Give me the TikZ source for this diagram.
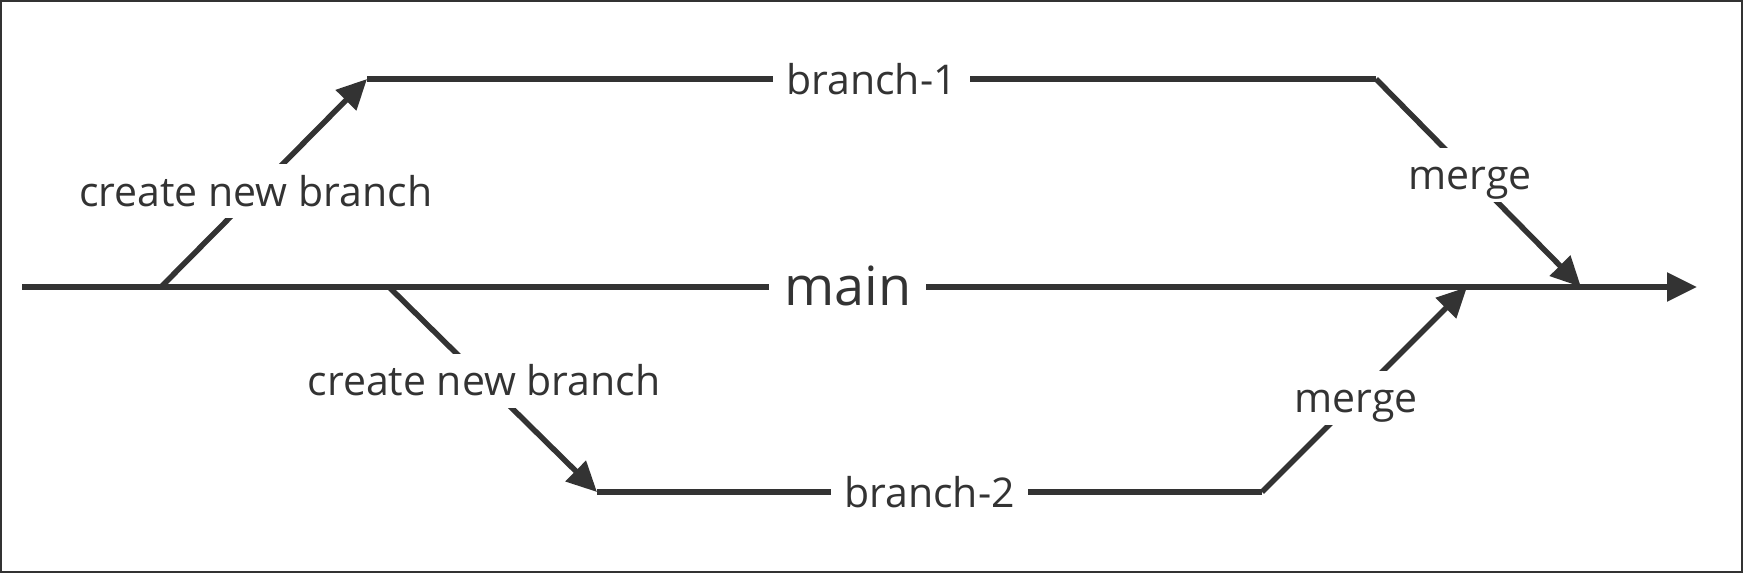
\documentclass[tikz,border=0pt]{standalone}
\usepackage{fontspec}
\setmainfont{Open Sans}
\usetikzlibrary{arrows.meta}
\definecolor{ink}{HTML}{333333}
\tikzset{
	track/.style={draw=ink, line width=5.5pt},
	flow/.style={track, -{Triangle[length=30pt,width=28pt]}},
	lbl/.style={fill=white, text=ink, font=\fontsize{41}{49}\selectfont, inner xsep=13pt, inner ysep=6.5pt, text height=35.5pt, text depth=5.5pt},
	mainlbl/.style={lbl, font=\fontsize{54}{64}\selectfont, inner xsep=15pt, text height=44pt, text depth=6.5pt},
}

\begin{document}
\begin{tikzpicture}[x=1pt, y=-1pt]
			%%%%% START %%%%%
			
			\useasboundingbox (0, 0) rectangle (1743, 573);
			\draw[ink, line width=2pt] (1, 1) rectangle (1742, 572);
			
			\coordinate (mainstart) at (22, 287);
			\coordinate (mainend) at (1697, 287);
			\coordinate (fork1) at (161, 287);
			\coordinate (fork2) at (389, 287);
			\coordinate (join2) at (1467, 287);
			\coordinate (join1) at (1581, 287);
			
			\coordinate (b1start) at (367, 79);
			\coordinate (b1end) at (1376, 79);
			\coordinate (b2start) at (597, 492);
			\coordinate (b2end) at (1262, 492);
			
			% main
			\draw[flow] (mainstart) -- (mainend) node[mainlbl, pos=0.493] (mainlabel) {main};
			
			% branch-1
			\draw[flow] (fork1) -- (b1start) node[lbl, pos=0.46] (create1) {create new branch};
			\draw[track] (b1start) -- (b1end) node[lbl, midway] (branch1) {branch-1};
			\draw[flow] (b1end) -- (join1) node[lbl, pos=0.46] (merge1) {merge};
			
			% branch-2
			\draw[flow] (fork2) -- (b2start) node[lbl, pos=0.457] (create2) {create new branch};
			\draw[track] (b2start) -- (b2end) node[lbl, midway] (branch2) {branch-2};
			\draw[flow] (b2end) -- (join2) node[lbl, pos=0.46] (merge2) {merge};
			
			%%%%% END %%%%%
\end{tikzpicture}
\end{document}
